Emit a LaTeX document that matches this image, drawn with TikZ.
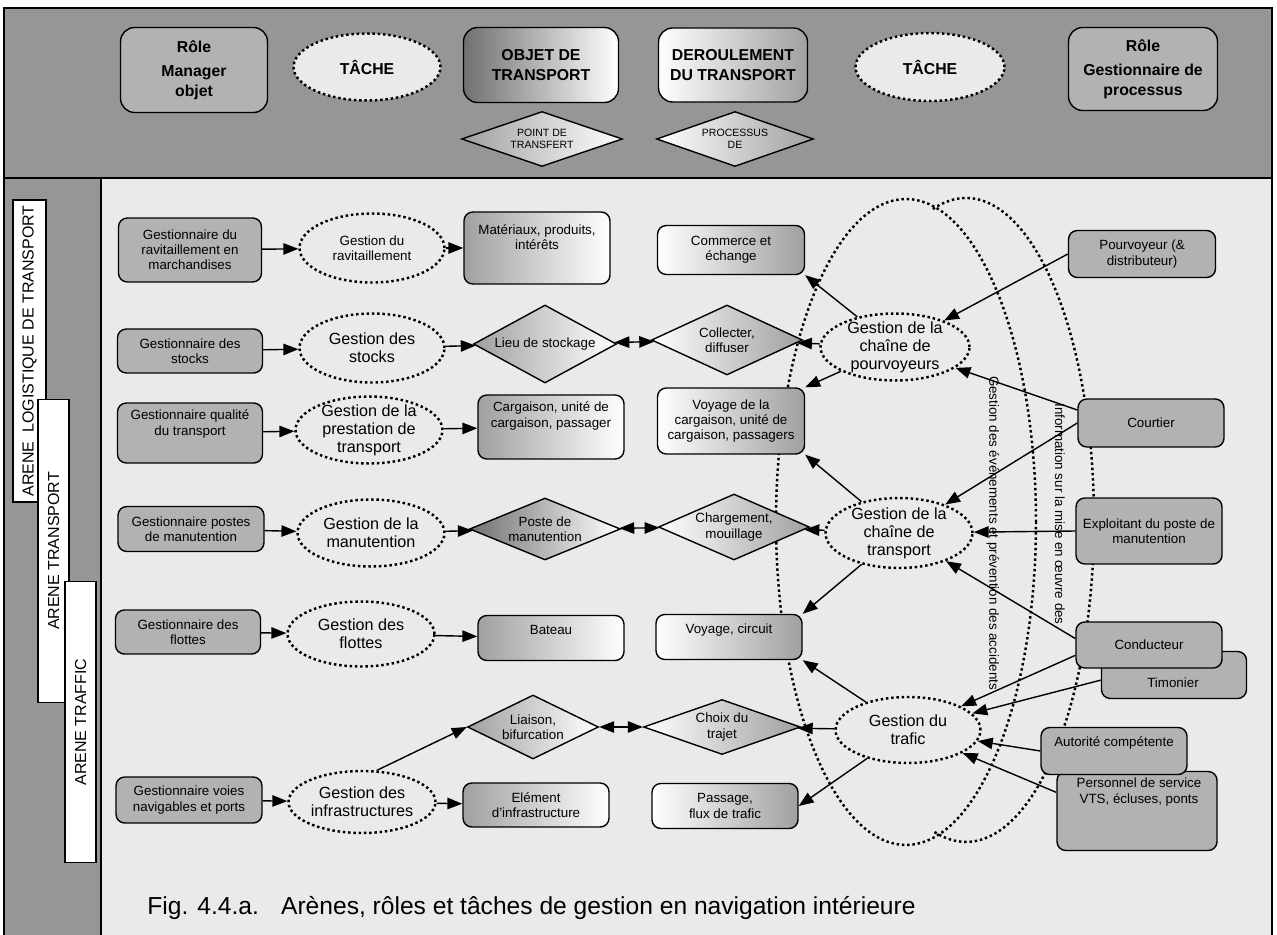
\documentclass[tikz,border=0pt]{standalone}
\usepackage{fontspec}
\setmainfont{Liberation Sans}
\usetikzlibrary{shapes.geometric,arrows.meta}

\definecolor{panelgray}{RGB}{150,150,150}
\definecolor{areagray}{RGB}{234,234,234}
\definecolor{rolegray}{RGB}{178,178,178}
\definecolor{shadegray}{RGB}{160,160,160}
\definecolor{darkshade}{RGB}{112,112,112}

\newcommand\txtbox{\fontsize{7.6}{8.6}\selectfont}
\newcommand\txttask{\fontsize{9.2}{10.2}\selectfont}
\newcommand\txthead{\fontsize{9}{11}\selectfont\bfseries}
\newcommand\txtsmall{\fontsize{6}{7}\selectfont}

\tikzset{
  role/.style={draw, line width=0.8pt, rounded corners=5pt, fill=rolegray, align=center, font=\txtbox, inner sep=2pt},
  headrole/.style={role, rounded corners=8pt, font=\txthead},
  objbox/.style={draw, line width=0.8pt, rounded corners=5pt, left color=shadegray, right color=white, align=center, font=\txtbox},
  procbox/.style={objbox, left color=white, right color=shadegray},
  objdiam/.style={diamond, aspect=2.2, draw, line width=0.8pt, inner sep=0pt, left color=shadegray, right color=white, align=center, font=\txtbox},
  procdiam/.style={objdiam, left color=white, right color=shadegray},
  task/.style={ellipse, draw, line width=1.4pt, dash pattern=on 1.4pt off 1.6pt, inner sep=-6pt, align=center, font=\txttask},
  bigloop/.style={line width=1.4pt, dash pattern=on 1.4pt off 1.6pt},
  lbl/.style={align=center, font=\txtbox, inner sep=0pt},
  arena/.style={draw, line width=0.8pt, fill=white, rotate=90, inner sep=0pt, font=\fontsize{9.1}{10}\selectfont},
  arr/.style={-{Triangle[length=8.5pt,width=6.5pt]}, line width=0.8pt},
  darr/.style={{Triangle[length=8.5pt,width=6.5pt]}-{Triangle[length=8.5pt,width=6.5pt]}, line width=0.8pt}
}

\begin{document}
\begin{tikzpicture}[x=0.02cm, y=-0.02cm]
\useasboundingbox (0,0) rectangle (1277,935);
% panels
\fill[panelgray] (4,8) rectangle (1272,178);
\fill[panelgray] (4,178) rectangle (101,935);
\fill[areagray] (101,178) rectangle (1272,935);
\draw[line width=0.8pt] (4,935) -- (4,8) -- (1272,8) -- (1272,935);
\draw[line width=0.8pt] (4,178) -- (1272,178);
\draw[line width=0.8pt] (101,178) -- (101,935);

% legend row
\node[headrole, minimum width=2.94cm, minimum height=1.7cm]  at (194, 70) (rman) {Rôle\\[3pt]Manager\\objet};
\node[task, fill=areagray, font=\txthead, minimum width=2.94cm, minimum height=1.34cm]  at (367, 67) (tache1) {TÂCHE};
\node[headrole, left color=darkshade, right color=white, minimum width=3.1cm, minimum height=1.5cm]  at (541, 65) (objet) {OBJET DE\\TRANSPORT};
\node[objdiam, font=\txtsmall, minimum width=3.22cm, minimum height=1.1cm]  at (542, 139) (ptrans) {POINT DE\\TRANSFERT};
\node[headrole, left color=white, right color=shadegray, minimum width=2.98cm, minimum height=1.48cm]  at (733, 65) (deroul) {DEROULEMENT\\DU TRANSPORT};
\node[procdiam, font=\txtsmall, minimum width=3.14cm, minimum height=1.1cm]  at (735, 139) (procde) {PROCESSUS\\DE};
\node[task, fill=areagray, font=\txthead, minimum width=2.98cm, minimum height=1.36cm]  at (930, 67) (tache2) {TÂCHE};
\node[headrole, minimum width=2.98cm, minimum height=1.66cm]  at (1143, 69) (rgest) {Rôle\\[3pt]Gestionnaire de\\processus};

% arenas
\node[arena, minimum width=6.04cm, minimum height=0.66cm]  at (29.5, 351) (alog) {ARENE\ \ LOGISTIQUE DE TRANSPORT};
\node[arena, minimum width=6.06cm, minimum height=0.62cm]  at (53.5, 551) (atra) {ARENE TRANSPORT};
\node[arena, minimum width=5.62cm, minimum height=0.62cm]  at (80.5, 722) (atraf) {ARENE TRAFFIC};

% the two big loops
\draw[bigloop] (906, 522) ellipse [x radius=2.6cm, y radius=6.46cm];
\coordinate (loopc) at (966, 520);
\draw[bigloop] (loopc) ++(105:2.56cm and 6.44cm) arc[start angle=105, end angle=-105, x radius=2.56cm, y radius=6.44cm];
\node[lbl, rotate=-90]  at (993, 533) (tacc) {Gestion des événements et prévention des accidents};
\node[lbl, rotate=-90]  at (1060, 514) (tinfo) {Information sur la mise en œuvre des};

% managers
\node[role, minimum width=2.86cm, minimum height=1.28cm]  at (190, 250) (grav) {Gestionnaire du\\ravitaillement en\\marchandises};
\node[role, minimum width=2.9cm, minimum height=0.88cm]  at (190, 351) (gsto) {Gestionnaire des\\stocks};
\node[role, minimum width=2.9cm, minimum height=1.2cm]  at (190, 433) (gqual) {};
\node[lbl]  at (190, 424) (gqual-t) {Gestionnaire qualité\\du transport};
\node[role, minimum width=2.92cm, minimum height=0.9cm]  at (191, 529) (gpost) {Gestionnaire postes\\de manutention};
\node[role, minimum width=2.9cm, minimum height=0.88cm]  at (188, 632) (gflot) {Gestionnaire des\\flottes};
\node[role, minimum width=2.92cm, minimum height=0.92cm]  at (189, 800) (gvoie) {Gestionnaire voies\\navigables et ports};

% tasks
\node[task, font=\txtbox, minimum width=2.9cm, minimum height=1.38cm]  at (372, 248) (trav) {Gestion du\\ravitaillement};
\node[task, minimum width=2.9cm, minimum height=1.38cm]  at (372, 348) (tsto) {Gestion des\\stocks};
\node[task, minimum width=2.94cm, minimum height=1.34cm]  at (369, 430) (tpres) {Gestion de la\\prestation de\\transport};
\node[task, minimum width=2.94cm, minimum height=1.34cm]  at (371, 533) (tman) {Gestion de la\\manutention};
\node[task, minimum width=2.94cm, minimum height=1.3cm]  at (361, 634) (tflot) {Gestion des\\flottes};
\node[task, minimum width=2.94cm, minimum height=1.24cm]  at (362, 802) (tinfra) {Gestion des\\infrastructures};

% objects
\node[objbox, minimum width=2.92cm, minimum height=1.44cm]  at (537, 248) (mat) {};
\node[lbl]  at (537, 237) (mat-t) {Matériaux, produits,\\intérêts};
\node[objdiam, minimum width=2.86cm, minimum height=1.56cm]  at (545, 344) (lieu) {Lieu de stockage};
\node[objbox, minimum width=2.92cm, minimum height=1.28cm]  at (551, 427) (cargo) {};
\node[lbl]  at (551, 416) (cargo-t) {Cargaison, unité de\\cargaison, passager};
\node[objdiam, left color=darkshade, minimum width=3.02cm, minimum height=1.24cm]  at (545, 529) (poste) {Poste de\\manutention};
\node[objbox, minimum width=2.92cm, minimum height=0.9cm]  at (551, 638) (bateau) {};
\node[lbl]  at (551, 630) (bateau-t) {Bateau};
\node[objdiam, minimum width=2.62cm, minimum height=1.28cm]  at (533, 727) (liaison) {Liaison,\\bifurcation};
\node[objbox, minimum width=2.92cm, minimum height=0.88cm]  at (536, 805) (element) {Elément\\d'infrastructure};

% processes
\node[procbox, minimum width=2.94cm, minimum height=0.98cm]  at (731, 250) (commerce) {Commerce et\\échange};
\node[procdiam, minimum width=3.02cm, minimum height=1.4cm]  at (727, 340) (collect) {Collecter,\\diffuser};
\node[procbox, minimum width=2.94cm, minimum height=1.32cm]  at (731, 421) (voycar) {Voyage de la\\cargaison, unité de\\cargaison, passagers};
\node[procdiam, minimum width=3.02cm, minimum height=1.32cm]  at (734, 527) (charg) {Chargement,\\mouillage};
\node[procbox, minimum width=2.92cm, minimum height=0.9cm]  at (729, 637) (voycirc) {};
\node[lbl]  at (729, 630) (voycirc-t) {Voyage, circuit};
\node[procdiam, minimum width=3.14cm, minimum height=1.1cm]  at (722, 727) (choix) {Choix du\\trajet};
\node[procbox, minimum width=2.92cm, minimum height=0.9cm]  at (725, 806) (passage) {Passage,\\flux de trafic};

% process tasks
\node[task, minimum width=2.98cm, minimum height=1.34cm]  at (895, 347) (gcp) {Gestion de la\\chaîne de\\pourvoyeurs};
\node[task, minimum width=2.94cm, minimum height=1.4cm]  at (899, 533) (gct) {Gestion de la\\chaîne de\\transport};
\node[task, minimum width=2.9cm, minimum height=1.32cm]  at (908, 730) (gtraf) {Gestion du\\trafic};

% process managers
\node[role, minimum width=2.94cm, minimum height=0.94cm]  at (1142, 254) (pourv) {Pourvoyeur (\&\\distributeur)};
\node[role, minimum width=2.92cm, minimum height=0.96cm]  at (1151, 423) (court) {Courtier};
\node[role, minimum width=2.92cm, minimum height=1.32cm]  at (1149, 531) (exploit) {Exploitant du poste de\\manutention};
\node[role, minimum width=2.9cm, minimum height=0.94cm]  at (1174, 675) (timon) {};
\node[lbl]  at (1173, 683) (timon-t) {Timonier};
\node[role, minimum width=2.92cm, minimum height=0.92cm]  at (1149, 645) (conduc) {Conducteur};
\node[role, minimum width=3.2cm, minimum height=1.58cm]  at (1137, 811) (person) {};
\node[lbl]  at (1139, 792) (person-t) {Personnel de service\\VTS, écluses, ponts};
\node[role, minimum width=2.92cm, minimum height=0.94cm]  at (1114, 751) (autor) {};
\node[lbl]  at (1114, 743) (autor-t) {Autorité compétente};

% connectors
\path[arr]  (grav) edge (trav)
            (trav) edge (mat)
            (gsto) edge (tsto)
            (tsto) edge (lieu)
            (gqual) edge (tpres)
            (tpres) edge (cargo)
            (gpost) edge (tman)
            (tman) edge (poste)
            (gflot) edge (tflot)
            (tflot) edge (bateau)
            (gvoie) edge (tinfra)
            (tinfra) edge (element)
            (tinfra.65) edge (liaison.west);
\path[darr] (lieu) edge (collect)
            (poste) edge (charg)
            (liaison) edge (choix);
\path[arr]  (gcp) edge (commerce.south east)
            (gcp) edge (collect)
            (gcp) edge (voycar.north east)
            (gct) edge (voycar.south east)
            (gct) edge (charg)
            (gct) edge (voycirc.north east)
            (gtraf) edge (voycirc.south east)
            (gtraf) edge (choix)
            (gtraf) edge (passage.east);
\path[arr]  (pourv.west) edge (gcp)
            (court.170) edge (gcp)
            (court.west) edge (gct)
            (exploit.west) edge (gct)
            (conduc.175) edge (gct)
            (conduc.188) edge (gtraf)
            (timon.184) edge (gtraf)
            (autor.west) edge (gtraf)
            (person.167) edge (gtraf);

\node[anchor=west, inner sep=0pt, font=\fontsize{14}{16}\selectfont]  at (147, 908) (caption) {Fig. 4.4.a.\hspace{0.9em}Arènes, rôles et tâches de gestion en navigation intérieure};
\end{tikzpicture}
\end{document}
